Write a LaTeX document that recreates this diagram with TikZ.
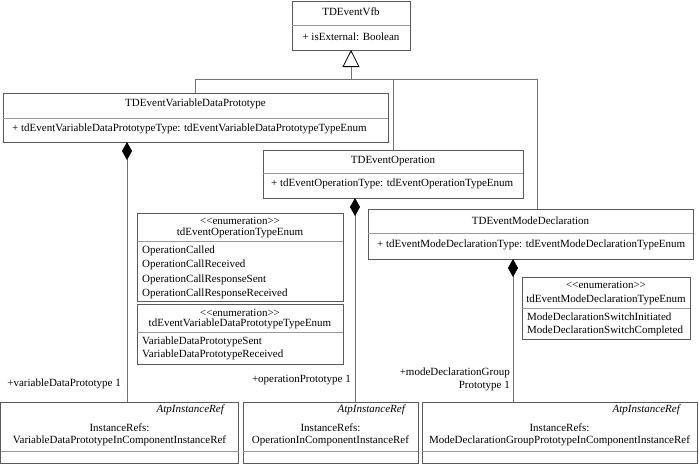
\documentclass[tikz,border=0pt]{standalone}
\usepackage{fontspec}
\setmainfont{Liberation Serif}
\usetikzlibrary{arrows.meta,calc}
\begin{document}
\begin{tikzpicture}[x=1pt,y=-1pt,
  box/.style={draw=black!65, line width=0.8pt, fill=white, inner sep=0pt, outer sep=0pt, anchor=north west},
  divline/.style={draw=black!40, line width=0.6pt},
  conn/.style={draw=black!55, line width=0.8pt},
  txt/.style={inner sep=0pt, font=\fontsize{11}{13}\selectfont},
  ltxt/.style={txt, anchor=west},
  itx/.style={txt, anchor=east, font=\fontsize{11}{13}\selectfont\itshape},
  comp/.style={conn, {Diamond[length=18pt,width=10pt,color=black]}-},
  gen/.style={conn, -{Triangle[open,length=17pt,width=17pt,color=black]}}
]
\useasboundingbox (0,0) rectangle (699,464);

% TDEventVfb
\node[box, minimum width=118pt, minimum height=49pt] (vfb) at (292,1) {};
\draw[divline] ($(vfb.north west)+(0,24)$) -- ($(vfb.north east)+(0,24)$);
\node[txt] (vfbT) at (351,12) {TDEventVfb};
\node[txt] (vfbA) at (351,37) {+ isExternal: Boolean};

% TDEventVariableDataPrototype
\node[box, minimum width=385pt, minimum height=49pt] (vdp) at (3,93) {};
\draw[divline] ($(vdp.north west)+(0,25)$) -- ($(vdp.north east)+(0,25)$);
\node[txt] (vdpT) at (195.5,104) {TDEventVariableDataPrototype};
\node[ltxt] (vdpA) at (12,129) {+ tdEventVariableDataPrototypeType: tdEventVariableDataPrototypeTypeEnum};

% TDEventOperation
\node[box, minimum width=260pt, minimum height=48pt] (op) at (263,150) {};
\draw[divline] ($(op.north west)+(0,23)$) -- ($(op.north east)+(0,23)$);
\node[txt] (opT) at (393,161) {TDEventOperation};
\node[ltxt] (opA) at (271,184) {+ tdEventOperationType: tdEventOperationTypeEnum};

% TDEventModeDeclaration
\node[box, minimum width=325pt, minimum height=50pt] (md) at (368,209) {};
\draw[divline] ($(md.north west)+(0,24)$) -- ($(md.north east)+(0,24)$);
\node[txt] (mdT) at (530.5,221) {TDEventModeDeclaration};
\node[ltxt] (mdA) at (377,245) {+ tdEventModeDeclarationType: tdEventModeDeclarationTypeEnum};

% enum 1
\node[box, minimum width=206pt, minimum height=88pt] (en1) at (137,213) {};
\draw[divline] ($(en1.north west)+(0,28)$) -- ($(en1.north east)+(0,28)$);
\node[txt] (en1S) at (240,221) {<{}<enumeration>{}>};
\node[txt] (en1N) at (240,233) {tdEventOperationTypeEnum};
\node[ltxt] (en1a) at (142,251) {OperationCalled};
\node[ltxt] (en1b) at (142,265) {OperationCallReceived};
\node[ltxt] (en1c) at (142,280) {OperationCallResponseSent};
\node[ltxt] (en1d) at (142,294) {OperationCallResponseReceived};

% enum 2
\node[box, minimum width=206pt, minimum height=60pt] (en2) at (137,304) {};
\draw[divline] ($(en2.north west)+(0,28)$) -- ($(en2.north east)+(0,28)$);
\node[txt] (en2S) at (240,313) {<{}<enumeration>{}>};
\node[txt] (en2N) at (240,324) {tdEventVariableDataPrototypeTypeEnum};
\node[ltxt] (en2a) at (142,342) {VariableDataPrototypeSent};
\node[ltxt] (en2b) at (142,355) {VariableDataPrototypeReceived};

% enum 3
\node[box, minimum width=168pt, minimum height=62pt] (en3) at (522,277) {};
\draw[divline] ($(en3.north west)+(0,31)$) -- ($(en3.north east)+(0,31)$);
\node[txt] (en3S) at (606,285) {<{}<enumeration>{}>};
\node[txt] (en3N) at (606,300) {tdEventModeDeclarationTypeEnum};
\node[ltxt] (en3a) at (527,317) {ModeDeclarationSwitchInitiated};
\node[ltxt] (en3b) at (527,331) {ModeDeclarationSwitchCompleted};

% instance ref boxes
\node[box, minimum width=238pt, minimum height=61pt] (ref1) at (0.5,402) {};
\draw[divline] ($(ref1.north west)+(0,49)$) -- ($(ref1.north east)+(0,49)$);
\node[itx] (ref1S) at (224,410) {AtpInstanceRef};
\node[txt] (ref1a) at (119.5,428) {InstanceRefs:};
\node[txt] (ref1b) at (119.5,441) {VariableDataPrototypeInComponentInstanceRef};

\node[box, minimum width=175pt, minimum height=61pt] (ref2) at (243,402) {};
\draw[divline] ($(ref2.north west)+(0,49)$) -- ($(ref2.north east)+(0,49)$);
\node[itx] (ref2S) at (405,410) {AtpInstanceRef};
\node[txt] (ref2a) at (330.5,428) {InstanceRefs:};
\node[txt] (ref2b) at (330.5,441) {OperationInComponentInstanceRef};

\node[box, minimum width=275pt, minimum height=61pt] (ref3) at (422,402) {};
\draw[divline] ($(ref3.north west)+(0,49)$) -- ($(ref3.north east)+(0,49)$);
\node[itx] (ref3S) at (680,410) {AtpInstanceRef};
\node[txt] (ref3a) at (559.5,428) {InstanceRefs:};
\node[txt] (ref3b) at (559.5,441) {ModeDeclarationGroupPrototypeInComponentInstanceRef};

% generalization
\coordinate (gj) at (351,79);
\draw[conn] (vdp.north) |- (gj);
\draw[conn] (op.north) |- (gj);
\draw[conn] ([xshift=6.5pt]md.north) |- (gj);
\draw[gen] (gj) -- (vfb.south);

% compositions
\coordinate (c1) at (127,0);
\coordinate (c2) at (355,0);
\coordinate (c3) at (513,0);
\draw[comp] (vdp.south -| c1) -- (ref1.north -| c1);
\draw[comp] (op.south -| c2) -- (ref2.north -| c2);
\draw[comp] (md.south -| c3) -- (ref3.north -| c3);

% role labels
\node[txt, anchor=east] (l1) at (121,384) {+variableDataPrototype 1};
\node[txt, anchor=east] (l2) at (351,380) {+operationPrototype 1};
\node[txt, anchor=east, align=right] (l3) at (510,379.5) {+modeDeclarationGroup\\Prototype 1};
\end{tikzpicture}
\end{document}
